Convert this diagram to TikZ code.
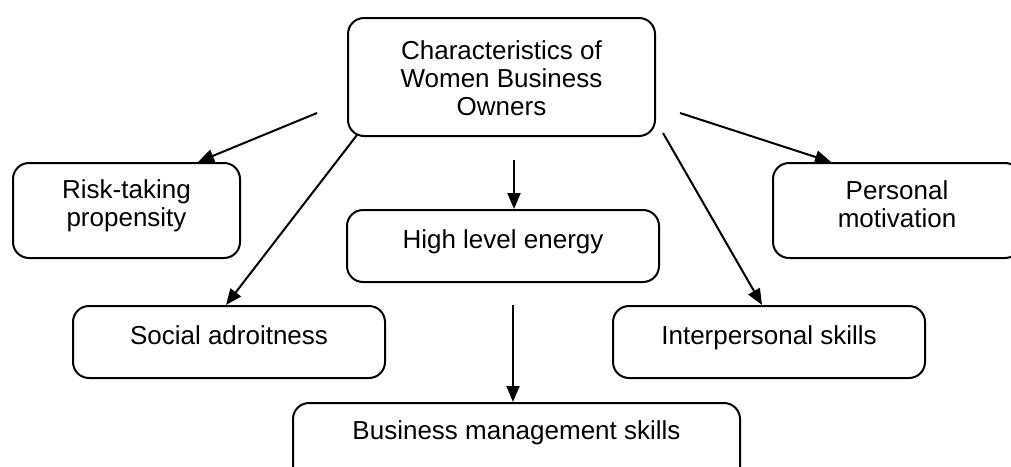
\documentclass[tikz,border=0pt]{standalone}
\usepackage{fontspec}
\setmainfont{Liberation Sans}
\usetikzlibrary{arrows.meta}
\tikzset{
  box/.style={draw, line width=1pt, rounded corners=8pt, align=center, anchor=north,
    font=\fontsize{13}{14}\selectfont, inner sep=0pt},
  arr/.style={line width=1pt, -{Triangle[length=8pt, width=6.5pt]}}
}

\begin{document}
\begin{tikzpicture}[x=0.5pt, y=-0.5pt]
\clip (0,0) rectangle (1011,466);
\useasboundingbox (0,0) rectangle (1011,466);
% boxes (top edge, last baseline, bottom edge)
\node[box, minimum width=153.5pt, text height=48.5pt, text depth=10.5pt] (top) at (501.5,17) {Characteristics of\\Women Business\\Owners};
\node[box, minimum width=113.5pt, text height=31.5pt, text depth=16pt] (risk) at (126.5,162) {Risk-taking\\propensity};
\node[box, minimum width=124pt, text height=32pt, text depth=15.5pt] (motiv) at (897,162) {Personal\\motivation};
\node[box, minimum width=156pt, text height=19pt, text depth=17pt] (energy) at (503,209) {High level energy};
\node[box, minimum width=156pt, text height=19pt, text depth=17pt] (social) at (229,305) {Social adroitness};
\node[box, minimum width=156pt, text height=19pt, text depth=17pt] (inter) at (769,305) {Interpersonal skills};
\node[box, minimum width=223.5pt, text height=18pt, text depth=30pt] (manage) at (516.5,402) {Business management skills};
% arrow starts
\coordinate (s1) at (317,113);
\coordinate (s2) at (357,135);
\coordinate (s3) at (514,160);
\coordinate (s4) at (513,305);
\coordinate (s5) at (663,133);
\coordinate (s6) at (680,113);
% arrows
\draw[arr] (s1) -- ([xshift=-21.5pt]risk.north east);
\draw[arr] (s2) -- ([xshift=77pt]social.north west);
\draw[arr] (s3) -- (s3 |- energy.north);
\draw[arr] (s4) -- (s4 |- manage.north);
\draw[arr] (s5) -- ([xshift=75pt]inter.north west);
\draw[arr] (s6) -- ([xshift=29.5pt]motiv.north west);
\end{tikzpicture}
\end{document}
